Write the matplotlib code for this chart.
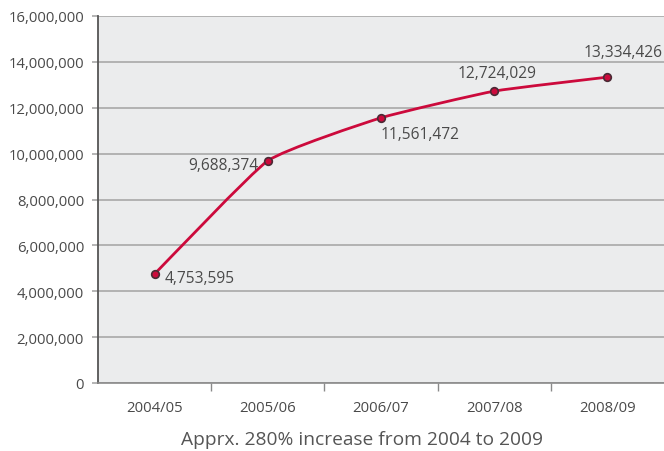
import numpy as np
import matplotlib as mpl
import matplotlib.pyplot as plt
from matplotlib.path import Path
from matplotlib.patches import PathPatch

mpl.rcParams['font.family'] = ['Open Sans', 'DejaVu Sans']

seasons = ["2004/05", "2005/06", "2006/07", "2007/08", "2008/09"]
visitors = [4753595, 9688374, 11561472, 12724029, 13334426]
caption = "Apprx. 280% increase from 2004 to 2009"

LINE_RED = "#cc0a3c"
TXT = "#4a4a4a"

fig = plt.figure(figsize=(6.64, 4.52), dpi=100)
ax = fig.add_axes([98/664, 68/452, 1 - 98/664, (384 - 17)/452])
ax.set_facecolor("#ebeced")

x = np.arange(len(seasons), dtype=float)
y = np.array(visitors, dtype=float)

# gently smoothed curve through the points (low tension catmull-rom -> bezier)
k = 1 / 14
px = np.concatenate([[x[0]], x, [x[-1]]])
py = np.concatenate([[y[0]], y, [y[-1]]])
verts = [(x[0], y[0])]
codes = [Path.MOVETO]
for i in range(1, len(px) - 2):
    c1 = (px[i] + (px[i+1] - px[i-1]) * k, py[i] + (py[i+1] - py[i-1]) * k)
    c2 = (px[i+1] - (px[i+2] - px[i]) * k, py[i+1] - (py[i+2] - py[i]) * k)
    verts += [c1, c2, (px[i+1], py[i+1])]
    codes += [Path.CURVE4] * 3
ax.add_patch(PathPatch(Path(verts, codes), fill=False, edgecolor=LINE_RED,
                       lw=2, zorder=3, capstyle='round'))
ax.plot(x, y, 'o', ms=5.5, mfc=LINE_RED, mec="#4a2a35", mew=1.2, zorder=4)

# data labels
offsets = [(7, -3, 'left', 'center'), (-7, -3, 'right', 'center'),
           (0, -6, 'left', 'top'), (2, 7, 'center', 'bottom'),
           (11, 12, 'center', 'bottom')]
for xi, yi, (dx, dy, ha, va) in zip(x, y, offsets):
    ax.annotate(f"{int(yi):,}", (xi, yi), xytext=(dx, dy), textcoords='offset points',
                ha=ha, va=va, fontsize=11.2, color=TXT)

ax.set_xlim(-0.5, len(seasons) - 0.5)
ax.set_ylim(0, 16000000)
ax.set_yticks(np.arange(0, 16000001, 2000000))
ax.set_yticklabels([f"{v:,}" for v in range(0, 16000001, 2000000)])
ax.set_xticks(x)
ax.set_xticklabels(seasons)
ax.set_xticks(x[:-1] + 0.5, minor=True)

ax.grid(axis='y', color="#a8a8a8", lw=1.2)
ax.set_axisbelow(True)
for s in ['top', 'right']:
    ax.spines[s].set_visible(False)
ax.spines['left'].set_color("#555555")
ax.spines['left'].set_linewidth(1.3)
ax.spines['bottom'].set_color("#8a8a8a")
ax.spines['bottom'].set_linewidth(1.2)

ax.tick_params(axis='y', length=4, width=1.2, color="#a8a8a8", labelsize=10.7,
               labelcolor=TXT, pad=6)
ax.tick_params(axis='x', which='major', length=0, labelsize=10.7, labelcolor=TXT, pad=12)
ax.tick_params(axis='x', which='minor', length=6, width=1, color="#8a8a8a")

fig.text(362/664, 1 - 440/452, caption, ha='center', va='center', fontsize=13.8, color="#555555")

fig.savefig("out.png", dpi=100)
